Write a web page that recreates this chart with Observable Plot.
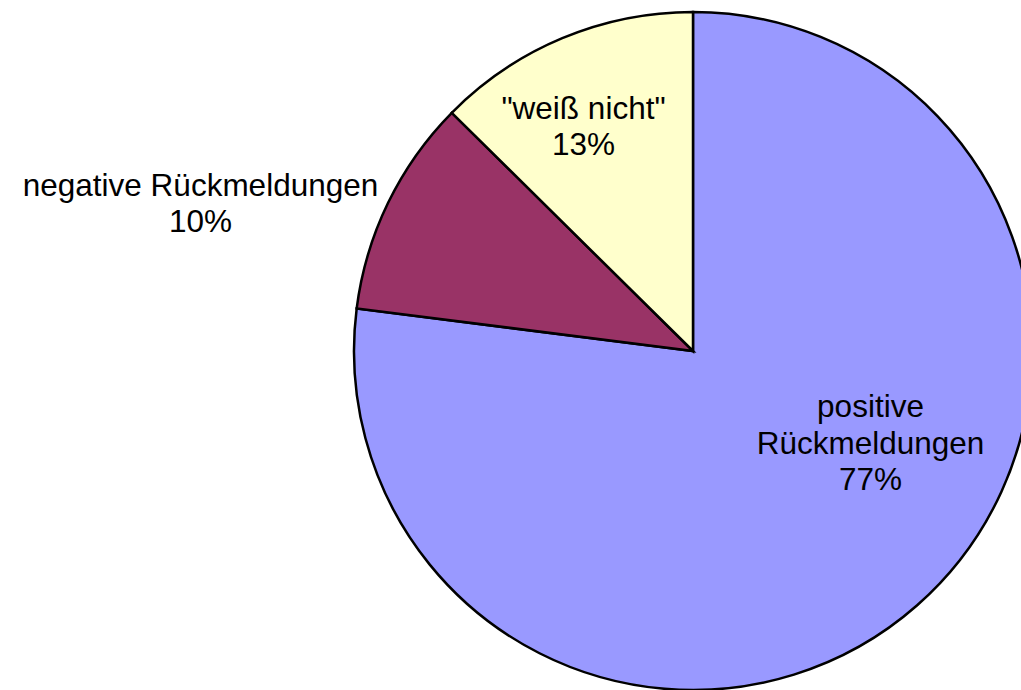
<!DOCTYPE html>
<html><head><meta charset="utf-8">
<script src="https://cdn.jsdelivr.net/npm/d3@7"></script>
<script src="https://cdn.jsdelivr.net/npm/@observablehq/plot@0.6"></script>
<style>html,body{margin:0;padding:0;background:#fff;overflow:hidden}</style>
</head><body><div id="chart"></div>
<script>
// ---- data ----
const categories = ["positive\nRückmeldungen", "negative Rückmeldungen", "\"weiß nicht\""];
const shares = [77.0, 10.4, 12.6];
const percentLabels = ["77%", "10%", "13%"];

// ---- style / layout ----
const colors = ["#9999FF", "#993366", "#FFFFCC"];
const W = 1021, H = 690;
const center = {x: 693, y: 351};
const radius = 339;
const labelX = [870, 200, 583];
const labelY = [441.5, 202, 125];

const slices = categories.map((c, i) => ({
  category: c, share: shares[i], label: c + "\n" + percentLabels[i],
  lx: labelX[i], ly: labelY[i], color: colors[i]
}));

function pieMark(index, scales, vals, dims, context) {
  const cx = scales.x(center.x), cy = scales.y(center.y);
  const rr = scales.x(center.x + radius) - cx;
  const arcs = d3.pie().sort(null).value(d => d.share)(slices);
  const arc = d3.arc().innerRadius(0).outerRadius(rr);
  const g = d3.create("svg:g").attr("transform", `translate(${cx},${cy})`);
  g.selectAll("path").data(arcs).join("path")
    .attr("d", arc)
    .attr("fill", d => d.data.color)
    .attr("stroke", "#000")
    .attr("stroke-width", 2.5)
    .attr("stroke-linejoin", "miter");
  return g.node();
}

const chart = Plot.plot({
  width: W, height: H, margin: 0,
  style: {background: "#fff", overflow: "hidden"},
  x: {domain: [0, W], range: [0, W], axis: null},
  y: {domain: [0, H], range: [0, H], axis: null},
  marks: [
    pieMark,
    Plot.text(slices, {
      x: "lx", y: "ly", text: "label",
      fontSize: 31.5, lineHeight: 1.16,
      fontFamily: "'Liberation Sans', Arial, sans-serif",
      fill: "#000", textAnchor: "middle", lineAnchor: "middle"
    })
  ]
});
document.getElementById("chart").appendChild(chart);
</script>
</body></html>
